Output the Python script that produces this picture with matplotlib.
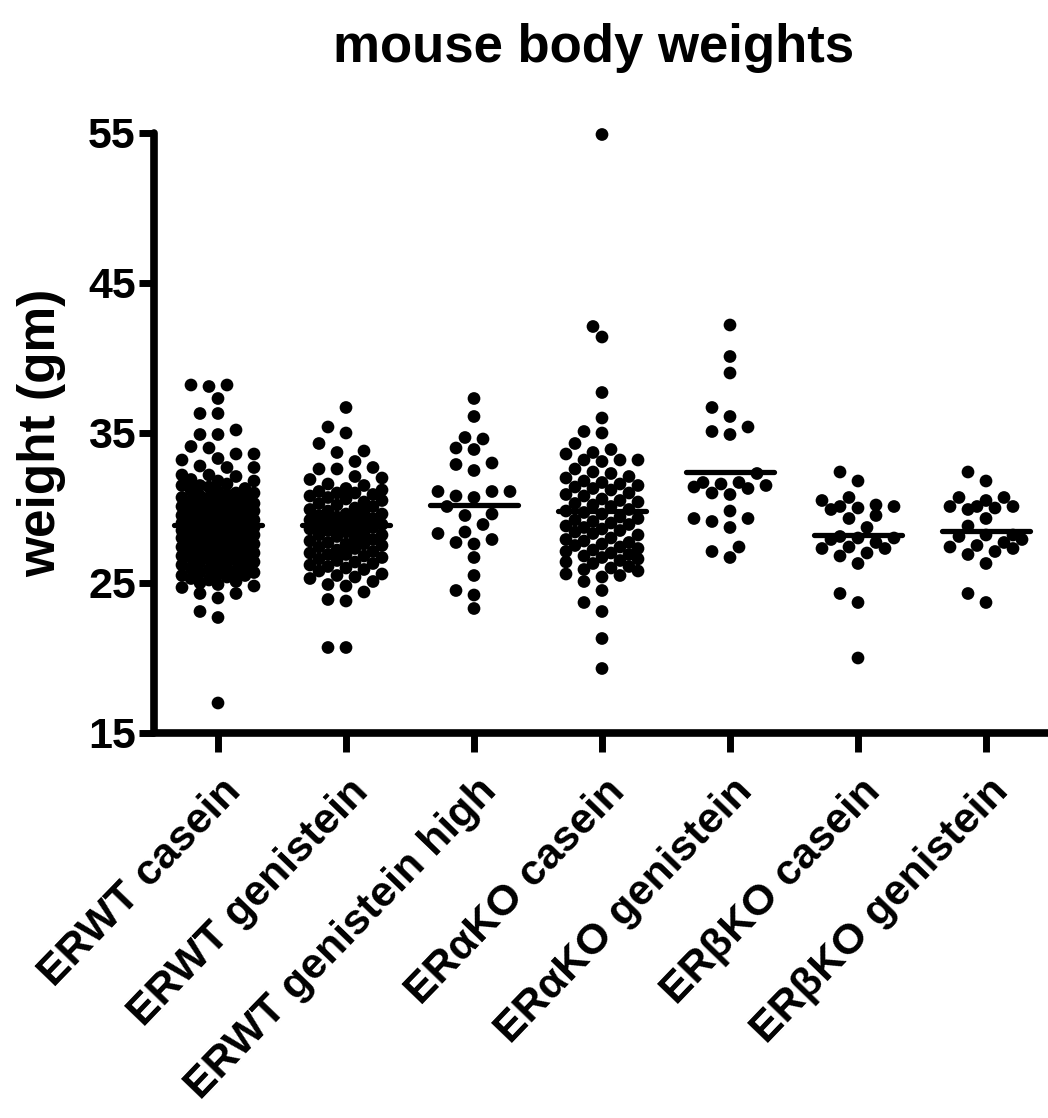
import numpy as np
import matplotlib
matplotlib.use("Agg")
import matplotlib.pyplot as plt
import matplotlib.transforms as mtransforms

# ---------------- data ----------------
categories = ["ERWT casein", "ERWT genistein", "ERWT genistein high",
              "ERαKO casein", "ERαKO genistein", "ERβKO casein", "ERβKO genistein"]

erwt_casein = [38.2, 38.2, 38.1, 37.3, 36.3, 36.3, 35.2, 34.9, 34.9, 34.1, 34.0,
               33.6, 33.6, 33.3, 33.2, 32.8, 32.7, 32.7, 32.2, 32.2, 32.1,
               31.9, 31.8, 31.8, 31.6, 31.5, 31.5, 31.3, 31.2, 31.1, 31.0, 31.0,
               30.9, 30.8, 30.7, 30.7, 30.5, 30.5, 30.4, 30.3, 30.2, 30.2, 30.1,
               30.0, 30.0, 29.9, 29.8, 29.8, 29.7, 29.6, 29.5, 29.5, 29.4, 29.3,
               29.3, 29.2, 29.1, 29.0, 29.0, 28.9, 28.9, 28.8, 28.7, 28.6, 28.6,
               28.5, 28.4, 28.4, 28.3, 28.2, 28.2, 28.1, 28.0, 28.0, 27.9, 27.8,
               27.8, 27.7, 27.6, 27.5, 27.5, 27.4, 27.3, 27.2, 27.1, 27.0, 27.0,
               26.9, 26.8, 26.7, 26.6, 26.6, 26.5, 26.4, 26.3, 26.2, 26.1, 26.0,
               26.0, 25.9, 25.8, 25.7, 25.6, 25.5, 25.5, 25.4, 25.3, 25.2, 25.1,
               25.0, 24.9, 24.8, 24.7, 24.3, 24.3, 24.0, 23.1, 22.7, 17.0,
               30.6, 29.9, 29.4, 28.8, 28.3, 27.6, 27.1, 26.4, 25.7, 31.4,
               30.3, 29.1, 28.5, 27.3, 26.7]
erwt_genistein = [36.7, 35.4, 35.0, 34.3, 33.8, 33.7, 33.1, 32.7, 32.6, 32.6,
                  32.1, 32.0, 31.9, 31.6, 31.5, 31.3, 31.2, 31.0, 31.0, 30.9,
                  30.8, 30.6, 30.5, 30.4, 30.3, 30.1, 30.0, 29.9, 29.8, 29.7,
                  29.6, 29.5, 29.4, 29.3, 29.2, 29.1, 29.0, 29.0, 28.9, 28.8,
                  28.7, 28.7, 28.6, 28.5, 28.4, 28.3, 28.2, 28.1, 28.0, 27.9,
                  27.8, 27.7, 27.6, 27.5, 27.4, 27.3, 27.2, 27.1, 27.0, 26.9,
                  26.8, 26.7, 26.6, 26.5, 26.4, 26.3, 26.1, 26.0, 25.9, 25.8,
                  25.6, 25.5, 25.4, 25.3, 25.1, 24.9, 24.8, 24.4, 23.9, 23.8,
                  20.7, 20.7, 30.7, 29.6, 28.9, 28.2, 27.6, 26.9, 26.2, 31.1,
                  30.2, 29.3]
erwt_genistein_high = [37.3, 36.1, 34.7, 34.6, 34.0, 33.9, 33.0, 32.5, 32.9,
                       31.1, 31.1, 30.8, 31.1, 30.7, 30.1, 29.5, 29.6, 28.9,
                       28.4, 27.7, 28.3, 27.6, 27.9, 26.7, 25.5, 24.5, 24.2, 23.3]
erako_casein = [54.9, 42.1, 41.4, 37.7, 36.0, 35.1, 35.0, 34.3, 33.9, 33.6,
                33.7, 33.2, 33.2, 33.1, 33.2, 32.6, 32.4, 32.3, 32.1, 32.0,
                31.8, 31.7, 31.6, 31.4, 31.3, 31.2, 31.0, 30.9, 30.8, 30.6,
                30.5, 30.3, 30.1, 29.9, 29.6, 29.4, 29.3, 29.1, 29.0, 28.8,
                28.7, 28.6, 28.4, 28.3, 28.2, 28.0, 27.9, 27.8, 27.6, 27.5,
                27.4, 27.2, 27.1, 27.0, 26.9, 26.8, 26.6, 26.5, 26.4, 26.3,
                26.1, 26.0, 25.9, 25.8, 25.6, 25.5, 25.4, 25.1, 24.5, 23.7,
                23.1, 21.3, 19.3, 31.5, 30.4, 29.8, 29.2, 28.5, 27.7, 26.7,
                29.7, 28.9, 27.3, 30.2]
erako_genistein = [42.2, 40.1, 39.0, 36.7, 36.1, 35.4, 34.9, 35.1, 32.3, 31.5,
                   31.3, 31.7, 31.6, 31.7, 31.4, 30.9, 31.0, 29.3, 29.1, 28.7,
                   29.3, 29.8, 27.4, 26.7, 27.1]
erbko_casein = [32.4, 31.8, 30.7, 30.5, 30.1, 29.9, 30.2, 30.1, 30.0, 29.3,
                29.5, 28.7, 28.0, 27.9, 28.0, 28.1, 27.7, 27.3, 27.0, 27.4,
                27.3, 26.8, 26.3, 24.3, 23.7, 20.0]
erbko_genistein = [32.4, 31.8, 30.7, 30.5, 30.7, 30.0, 30.1, 30.1, 29.9, 30.1,
                   29.3, 28.8, 28.2, 27.5, 27.9, 28.1, 28.2, 27.3, 26.9, 27.7,
                   27.1, 27.4, 26.3, 23.7, 24.3]

group_means = [28.9, 28.9, 30.2, 29.8, 32.4, 28.2, 28.5]

yticks = [15, 25, 35, 45, 55]

groups = [erwt_casein, erwt_genistein, erwt_genistein_high, erako_casein,
          erako_genistein, erbko_casein, erbko_genistein]

# ---------------- figure ----------------
W, H, DPI = 1048, 1118, 100
fig = plt.figure(figsize=(W / DPI, H / DPI), dpi=DPI)
plt.rcParams['font.family'] = ['Liberation Sans', 'DejaVu Sans']

ax_l, ax_r = 154 / W, 1050 / W
ax_b, ax_t = 1 - 733 / H, 1 - 133 / H
ax = fig.add_axes([ax_l, ax_b, ax_r - ax_l, ax_t - ax_b])
ax.set_xlim(-0.5, 6.5)
ax.set_ylim(15, 55)
ax.patch.set_alpha(0)

px_per_x = (ax_r - ax_l) * W / 7.0
px_per_y = (ax_t - ax_b) * H / 40.0


def swarm_offsets(vals, d=13.0, step=9.0, maxk=4):
    vals = np.asarray(vals, float)
    order = np.argsort(vals)
    cands = [0.0]
    for k in range(1, maxk + 1):
        cands += [-k * step, k * step]
    placed_x, placed_y = [], []
    offs = np.zeros(len(vals))
    for i in order:
        y = vals[i] * px_per_y
        best, best_md = 0.0, -1.0
        chosen = None
        for c in cands:
            if placed_x:
                md = np.min(np.hypot(np.array(placed_x) - c, np.array(placed_y) - y))
            else:
                md = np.inf
            if md >= d:
                chosen = c
                break
            if md > best_md:
                best_md, best = md, c
        if chosen is None:
            chosen = best
        placed_x.append(chosen)
        placed_y.append(y)
        offs[i] = chosen / px_per_x
    return offs


for i, vals in enumerate(groups):
    offs = swarm_offsets(vals)
    ax.scatter(i + offs, vals, s=84, color='black', edgecolors='none',
               zorder=3, clip_on=False)
    ax.plot([i - 0.345, i + 0.345], [group_means[i]] * 2, color='black',
            lw=3.8, solid_capstyle='round', zorder=4)

for side in ['top', 'right']:
    ax.spines[side].set_visible(False)
for side in ['left', 'bottom']:
    ax.spines[side].set_linewidth(5.5)
    ax.spines[side].set_capstyle('round')

ax.set_yticks(yticks)
ax.set_yticklabels([str(t) for t in yticks], fontsize=31, fontweight='bold')
ax.set_xticks(range(len(categories)))
ax.set_xticklabels(categories, fontsize=31, fontweight='bold', rotation=46,
                   ha='right', va='top', rotation_mode='anchor')
ax.tick_params(axis='y', length=11, width=5, pad=2)
ax.tick_params(axis='x', length=14, width=5, pad=2)
offset = mtransforms.ScaledTranslation(2 / DPI, -16 / DPI, fig.dpi_scale_trans)
for lab in ax.get_xticklabels():
    lab.set_transform(lab.get_transform() + offset)

fig.text(594 / W, 1 - 48 / H, "mouse body weights", ha='center', va='center',
         fontsize=38, fontweight='bold')
fig.text(42 / W, 1 - 433 / H, "weight (gm)", ha='center', va='center',
         rotation=90, fontsize=37, fontweight='bold')

fig.savefig("out.png", dpi=DPI, facecolor='white')
